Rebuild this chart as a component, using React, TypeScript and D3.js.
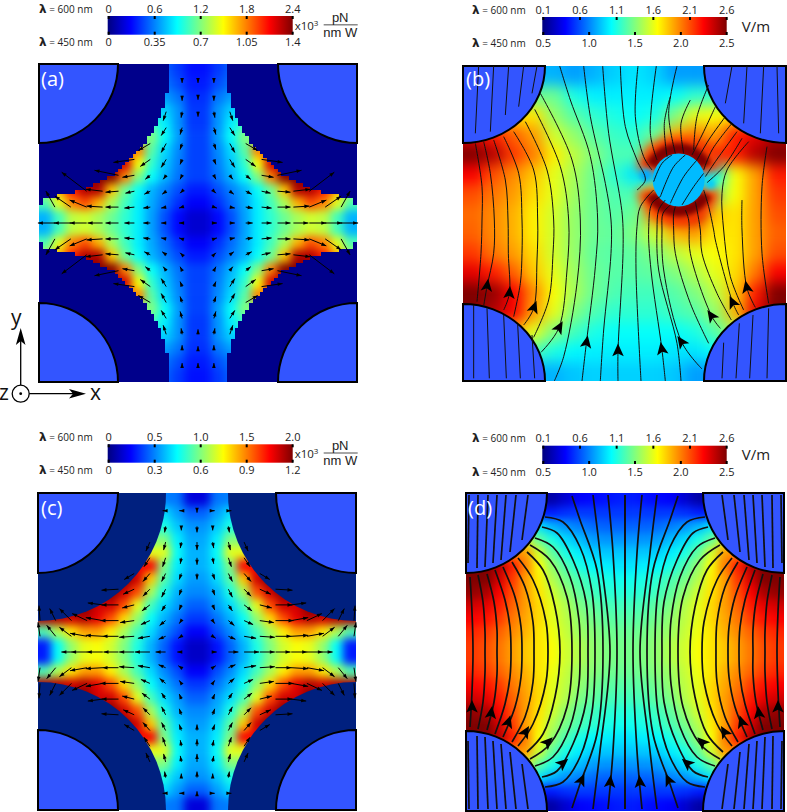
import React from "react";
import * as d3 from "d3";

// colour bar ticks
const forceTop600A = ["0", "0.6", "1.2", "1.8", "2.4"];
const forceBottom450A = ["0", "0.35", "0.7", "1.05", "1.4"];
const forceTop600C = ["0", "0.5", "1.0", "1.5", "2.0"];
const forceBottom450C = ["0", "0.3", "0.6", "0.9", "1.2"];
const fieldTop600 = ["0.1", "0.6", "1.1", "1.6", "2.1", "2.6"];
const fieldBottom450 = ["0.5", "1.0", "1.5", "2.0", "2.5"];

// colour map, in percent of the bar
const jetDomain = [0, 12.5, 37.5, 62.5, 87.5, 100];
const jetColors = ["#00007f", "#0000ff", "#00ffff", "#ffff00", "#ff0000", "#7f0000"];

// heat values, percent of the colour bar, top-left quarter
const fieldA = [
  [22, 22, 22, 22, 22, 22, 22, 22, 22, 22, 18, 14],
  [24, 24, 24, 24, 24, 24, 24, 24, 24, 24, 20, 15],
  [28, 28, 28, 28, 28, 28, 28, 28, 28, 28, 24, 17],
  [33, 33, 33, 33, 33, 33, 33, 33, 33, 33, 27, 18],
  [44, 44, 44, 44, 44, 44, 44, 44, 44, 36, 27, 18],
  [50, 50, 50, 50, 50, 50, 50, 50, 50, 38, 28, 19],
  [75, 75, 75, 75, 75, 75, 75, 75, 46, 34, 26, 19],
  [92, 92, 92, 92, 92, 92, 92, 62, 42, 32, 25, 19],
  [60, 75, 90, 100, 100, 100, 75, 50, 38, 30, 24, 19],
  [55, 70, 85, 95, 95, 68, 48, 38, 30, 25, 20, 15],
  [45, 60, 75, 80, 70, 54, 44, 36, 29, 23, 17, 12],
  [30, 44, 56, 58, 54, 48, 42, 36, 28, 20, 13, 8],
];
const fieldC = [
  [25, 25, 25, 25, 25, 25, 25, 25, 25, 25, 24, 9],
  [34, 34, 34, 34, 34, 34, 34, 34, 34, 34, 28, 22],
  [40, 40, 40, 40, 40, 40, 40, 40, 40, 40, 32, 27],
  [50, 50, 50, 50, 50, 50, 50, 50, 50, 50, 36, 29],
  [60, 60, 60, 60, 60, 60, 60, 60, 60, 60, 38, 30],
  [88, 88, 88, 88, 88, 88, 88, 88, 88, 50, 36, 30],
  [100, 100, 100, 100, 100, 100, 100, 92, 68, 46, 34, 28],
  [100, 100, 100, 100, 100, 100, 92, 80, 54, 40, 30, 26],
  [100, 100, 100, 100, 92, 92, 80, 60, 44, 34, 28, 22],
  [95, 95, 92, 95, 90, 80, 66, 52, 38, 30, 24, 18],
  [45, 55, 65, 72, 72, 64, 54, 44, 34, 26, 20, 12],
  [15, 38, 52, 60, 62, 58, 50, 40, 30, 22, 14, 7],
];
const fieldD = [
  [4, 4, 4, 4, 4, 4, 4, 8, 12, 13, 14, 15],
  [15, 15, 15, 15, 15, 15, 15, 17, 18, 18, 18, 18],
  [35, 35, 35, 35, 35, 35, 30, 27, 25, 23, 22, 22],
  [60, 60, 60, 60, 60, 47, 40, 34, 31, 28, 27, 27],
  [80, 80, 80, 75, 72, 58, 47, 40, 36, 33, 32, 32],
  [100, 100, 95, 85, 75, 62, 52, 45, 40, 37, 36, 35],
  [100, 100, 92, 82, 72, 64, 55, 49, 45, 42, 40, 39],
  [98, 96, 88, 80, 72, 65, 58, 52, 47, 44, 42, 41],
  [92, 90, 85, 78, 72, 66, 60, 55, 50, 47, 45, 44],
  [88, 86, 82, 76, 71, 66, 60, 56, 52, 49, 47, 46],
  [84, 82, 78, 74, 70, 65, 61, 57, 53, 51, 49, 48],
  [82, 80, 76, 72, 68, 65, 62, 58, 55, 52, 50, 49],
];
// panel b has a particle in it, so the whole panel is listed
const fieldB = [
  [30, 30, 30, 30, 30, 28, 30, 33, 35, 33, 28, 28, 27, 27, 27, 27],
  [48, 48, 48, 48, 48, 40, 36, 36, 36, 36, 38, 42, 42, 45, 45, 45],
  [65, 65, 65, 65, 52, 46, 42, 40, 38, 40, 50, 60, 62, 65, 65, 65],
  [90, 85, 78, 72, 58, 52, 46, 43, 42, 48, 70, 75, 72, 85, 90, 95],
  [100, 95, 82, 75, 64, 56, 50, 45, 45, 75, 92, 94, 84, 85, 95, 100],
  [88, 80, 74, 68, 60, 54, 48, 42, 35, 32, 30, 30, 38, 62, 72, 85],
  [80, 76, 72, 66, 60, 53, 48, 45, 45, 60, 50, 40, 50, 62, 72, 82],
  [77, 74, 70, 64, 58, 52, 48, 46, 48, 75, 92, 92, 68, 65, 72, 80],
  [78, 74, 70, 64, 58, 52, 48, 47, 50, 58, 70, 72, 65, 65, 72, 78],
  [82, 76, 72, 66, 58, 52, 47, 46, 47, 50, 56, 60, 62, 65, 72, 80],
  [90, 85, 78, 68, 60, 53, 48, 46, 46, 47, 50, 55, 60, 66, 76, 88],
  [100, 98, 88, 74, 62, 54, 48, 45, 44, 44, 46, 50, 56, 68, 85, 100],
  [100, 95, 88, 72, 60, 50, 45, 42, 42, 42, 44, 46, 52, 70, 90, 100],
  [80, 75, 70, 60, 50, 44, 40, 38, 38, 38, 38, 40, 46, 55, 75, 80],
  [50, 50, 50, 45, 40, 37, 36, 36, 36, 36, 35, 35, 38, 45, 50, 50],
  [30, 30, 30, 30, 30, 32, 33, 33, 33, 33, 32, 28, 28, 30, 30, 30],
];

// force arrows, one row per distance from the middle: outward x, inward y
const arrowUA = [
  [0, 3, 5, 7, 10, 13, 15, 17, 17, 17],
  [0, 3, 5, 7, 10, 13, 16, 17, 16, 9],
  [0, 2, 4, 6, 9, 13, 17, 25],
  [0, 2, 3, 5, 12, 24],
  [0, 2, 5, 10, 21],
  [0, 2, 5, 12],
  [0, 2, 5],
  [0, 1, 3],
  [0, 0],
  [0, 0],
];
const arrowVA = [
  [0, 0, 0, 0, 0, 0, 0, 0, 0, 0],
  [0, 1, 1, 1, 1, 0, -1, -7, -11, -16],
  [0, 2, 3, 3, 2, 1, -2, -19],
  [0, 4, 4, 4, 2, -5],
  [0, 5, 8, 7, 3],
  [0, 6, 9, 7],
  [0, 7, 8],
  [5, 6, 9],
  [4, 5],
  [3, 3],
];
const arrowUC = [
  [0, 4, 10, 15, 15, 15, 16, 16, 10, 0, 0],
  [0, 3, 7, 12, 15, 16, 17, 17, 12, 9, 2],
  [0, 2, 6, 9, 14, 18, 17, 15, 12, 6, 1],
  [0, 2, 4, 8, 12, 17, 15],
  [0, 2, 4, 7, 11, 17],
  [0, 2, 4, 7, 10],
  [0, 1, 3, 6],
  [0, 1, 2, 4],
  [0, 0, 1],
  [0, 2, 3],
];
const arrowVC = [
  [0, 0, 0, 0, 0, 0, 0, 0, 0, 0, 0],
  [0, 2, 3, 2, 1, 0, -1, -3, -9, -11, -14],
  [0, 3, 5, 4, 2, 0, -3, -7, -12, -12, -15],
  [0, 5, 6, 6, 3, 0, -2],
  [0, 6, 8, 7, 5, 1],
  [6, 6, 8, 8, 6],
  [7, 6, 9, 9],
  [8, 6, 8, 9],
  [6, 4, 6],
  [2, 0, 0],
];

// streamlines of panel b, in units of a third of a pixel
const streamB = [
  [[110, 905], [122, 760], [125, 660], [125, 560], [105, 430]],
  [[130, 918], [140, 860], [160, 760], [162, 660], [150, 520], [130, 425]],
  [[190, 930], [207, 882], [204, 760], [203, 660], [195, 540], [160, 420]],
  [[220, 950], [240, 850], [245, 760], [245, 660], [235, 520], [190, 410]],
  [[250, 975], [280, 925], [290, 780], [292, 660], [280, 510], [220, 395]],
  [[280, 1012], [325, 900], [338, 760], [340, 660], [320, 510], [255, 365]],
  [[302, 1057], [355, 985], [380, 810], [385, 660], [360, 500], [283, 328]],
  [[342, 1143], [370, 1070], [410, 850], [420, 660], [395, 480], [300, 280]],
  [[425, 1143], [438, 1030], [465, 800], [472, 660], [450, 470], [390, 300], [358, 198]],
  [[480, 1143], [490, 990], [512, 760], [512, 660], [495, 550], [450, 350], [430, 198]],
  [[533, 1143], [533, 1055], [548, 760], [547, 660], [540, 600], [505, 400], [487, 198]],
  [[602, 1143], [587, 810], [590, 680], [600, 620], [640, 570]],
  [[590, 570], [615, 540], [590, 480], [555, 380], [540, 198]],
  [[635, 510], [610, 470], [585, 350], [593, 198]],
  [[650, 480], [630, 400], [648, 198]],
  [[680, 470], [672, 370], [690, 290]],
  [[705, 460], [685, 340], [710, 198]],
  [[730, 460], [722, 370], [750, 300]],
  [[760, 450], [770, 350], [805, 255]],
  [[755, 465], [790, 395], [825, 320]],
  [[770, 480], [805, 420], [855, 350]],
  [[790, 510], [815, 450], [875, 370]],
  [[795, 530], [825, 485], [890, 395]],
  [[800, 548], [850, 500], [905, 415]],
  [[675, 1143], [665, 1050], [632, 810], [625, 690], [635, 610], [660, 590]],
  [[722, 1143], [710, 1030], [655, 810], [650, 690], [655, 630], [675, 600]],
  [[785, 1107], [725, 1028], [670, 810], [665, 690], [668, 640], [690, 615]],
  [[805, 1030], [750, 910], [705, 760], [700, 690], [700, 640], [705, 620]],
  [[840, 985], [815, 950], [750, 760], [745, 660], [735, 630]],
  [[873, 960], [830, 880], [785, 760], [780, 690], [770, 630], [765, 605]],
  [[895, 945], [878, 910], [825, 720], [820, 690], [805, 620], [790, 570]],
  [[910, 930], [870, 830], [850, 690], [845, 580], [860, 510], [925, 425]],
  [[945, 922], [920, 865], [905, 690], [905, 600]],
  [[985, 910], [965, 760], [965, 560], [980, 440]],
  // inside the corners
  [[115, 198], [105, 400]],
  [[160, 198], [150, 395]],
  [[205, 198], [195, 345]],
  [[250, 198], [235, 320]],
  [[290, 198], [275, 280]],
  [[875, 198], [855, 310]],
  [[920, 198], [910, 370]],
  [[970, 198], [960, 400]],
  [[1010, 198], [1015, 400]],
  [[100, 915], [100, 1135]],
  [[140, 925], [147, 1135]],
  [[190, 945], [198, 1135]],
  [[232, 972], [240, 1135]],
  [[275, 1005], [283, 1135]],
  [[850, 1028], [845, 1135]],
  [[897, 970], [887, 1135]],
  [[938, 945], [928, 1135]],
  [[985, 925], [980, 1135]],
  // across the particle
  [[640, 545], [665, 490], [695, 465]],
  [[660, 590], [700, 500], [735, 465]],
  [[690, 610], [730, 530], [770, 480]],
  [[725, 615], [760, 560], [790, 520]],
];
// x, y, tilt from straight up in degrees
const arrowsB = [
  [140, 860, 8], [207, 882, 5], [280, 925, 20], [355, 985, 30], [438, 1030, 10], [533, 1055, 0],
  [665, 1050, -10], [725, 1028, -35], [815, 950, -35], [878, 910, -25], [920, 865, -12],
];

// streamlines of panel d, one quarter: distance from the middle in x and y
const streamD = [
  [[155, 75], [153, 40], [152, 0]],
  [[147, 77], [142, 50], [140, 20], [140, 0]],
  [[138, 78], [131, 50], [128, 22], [128, 0]],
  [[130, 82], [120, 52], [115, 25], [114, 0]],
  [[122, 85], [110, 55], [104, 25], [103, 0]],
  [[113, 90], [100, 65], [92, 30], [91, 0]],
  [[107, 94], [92, 72], [79, 30], [77, 0]],
  [[98, 100], [82, 82], [70, 45], [65, 0]],
  [[95, 107], [75, 92], [58, 55], [53, 0]],
  [[90, 114], [72, 105], [55, 75], [46, 32], [45, 0]],
  [[83, 125], [68, 119], [52, 92], [39, 50], [37, 0]],
  [[80, 135], [62, 130], [45, 105], [33, 60], [30, 0]],
  [[53, 156], [45, 132], [28, 82], [22, 0]],
  [[32, 157], [25, 99], [15, 0]],
  [[17, 157], [12, 99], [8, 0]],
  [[0, 157], [0, 0]],
];
const streamDCorners = [
  [[97, 157], [103, 112]],
  [[109, 157], [115, 100]],
  [[119, 157], [124, 92]],
  [[128, 157], [132, 89]],
  [[137, 157], [140, 85]],
  [[147, 157], [148, 84]],
  [[156, 157], [157, 89]],
];
const arrowsD = [
  [153, 56, 0], [134, 62, 8], [117, 71, 18], [100, 81, 30], [78, 91, 45], [63, 112, 50], [44, 129, 25], [15, 131, 5],
];

const jet = d3.scaleLinear<string>().domain(jetDomain).range(jetColors);
const mirror = (q: number[][]) => {
  const rows = q.map((r) => [...r, ...[...r].reverse()]);
  return [...rows, ...[...rows].reverse()];
};
const lineGen = d3.line().curve(d3.curveCatmullRom.alpha(0.5));
const SANS = "'Open Sans', sans-serif";
const CIRCLE = "#3355ff";

const Heat = ({ rows, x0, x1, y0, y1, filter }: any) => {
  const nx = rows[0].length;
  const ny = rows.length;
  const xs = d3.scaleLinear().domain([0, nx]).range([x0, x1]);
  const ys = d3.scaleLinear().domain([0, ny]).range([y0, y1]);
  const pad = 4;
  return (
    <g filter={filter}>
      {d3.range(-pad, ny + pad).map((j) =>
        d3.range(-pad, nx + pad).map((i) => (
          <rect
            key={j + "_" + i}
            x={xs(i)}
            y={ys(j)}
            width={xs(1) - xs(0) + 0.5}
            height={ys(1) - ys(0) + 0.5}
            fill={jet(rows[Math.max(0, Math.min(ny - 1, j))][Math.max(0, Math.min(nx - 1, i))])}
          />
        ))
      )}
    </g>
  );
};

const corners = (x0: number, x1: number, y0: number, y1: number) => [
  [x0, y0, 1, 1],
  [x1, y0, -1, 1],
  [x0, y1, 1, -1],
  [x1, y1, -1, -1],
];

const quarter = (cx: number, cy: number, sx: number, sy: number, rx: number, ry: number) =>
  `M${cx},${cy}L${cx + sx * rx},${cy}A${rx},${ry} 0 0 ${sx * sy > 0 ? 1 : 0} ${cx},${cy + sy * ry}Z`;

const Discs = ({ x0, x1, y0, y1, rx, ry }: any) => (
  <g>
    {corners(x0, x1, y0, y1).map(([cx, cy, sx, sy], i) => (
      <path key={i} d={quarter(cx, cy, sx, sy, rx, ry)} fill={CIRCLE} stroke="#000" strokeWidth={2} />
    ))}
  </g>
);

// stepped edge of the computed region in panel a, with the small tip at the side
const StepMask = ({ x0, x1, y0, y1, r, step, fill }: any) => {
  const p = d3.path();
  corners(x0, x1, y0, y1).forEach(([cx, cy, sx, sy]) => {
    d3.range(0, r + 7, step).forEach((dy) => {
      const dx = dy < r ? Math.max(step, Math.round(Math.sqrt(r * r - dy * dy) / step) * step) : step;
      const left = sx > 0 ? cx : cx - dx;
      const top = sy > 0 ? cy + dy : cy - dy - step;
      p.rect(left, top, dx, step + 0.3);
    });
  });
  return <path d={p.toString()} fill={fill} shapeRendering="crispEdges" />;
};

const Quiver = ({ cx, cy, us, vs, step }: any) => {
  const pos = d3.scaleLinear().domain([0, 10]).range([0, 10 * step]);
  const items: React.ReactNode[] = [];
  us.forEach((row: number[], j: number) => {
    row.forEach((u: number, i: number) => {
      const v = vs[j][i];
      if (!u && !v) return;
      [-1, 1].forEach((sx) => {
        if (i === 0 && sx > 0) return;
        [-1, 1].forEach((sy) => {
          if (j === 0 && sy > 0) return;
          const tx = cx + sx * pos(i);
          const ty = cy + sy * pos(j);
          const hx = tx + sx * u;
          const hy = ty - sy * v;
          const a = (Math.atan2(hy - ty, hx - tx) * 180) / Math.PI;
          items.push(
            <g key={`${i}_${j}_${sx}_${sy}`}>
              <line x1={tx} y1={ty} x2={hx} y2={hy} stroke="#000" strokeWidth={1} />
              <path d="M0,0L-5,-1.8L-5,1.8Z" fill="#000" transform={`translate(${hx},${hy}) rotate(${a})`} />
            </g>
          );
        });
      });
    });
  });
  return <g>{items}</g>;
};

const FlowHead = ({ x, y, tilt, size = 1.15 }: any) => (
  <path
    d="M0,-7L5,4L0,1.5L-5,4Z"
    fill="#000"
    transform={`translate(${x},${y}) rotate(${tilt}) scale(${size})`}
  />
);

const Lambda = ({ x, y, nm }: any) => (
  <text x={x} y={y} fontFamily={SANS} fontSize={10} fill="#222">
    <tspan fontFamily="'DejaVu Sans', sans-serif" fontSize={12} fontWeight={700}>λ</tspan>
    <tspan> = {nm} nm</tspan>
  </text>
);

const ColorBar = ({ x0, x1, y0, y1, top, bottom, unit, labelX }: any) => {
  const topScale = d3.scaleLinear().domain([+top[0], +top[top.length - 1]]).range([x0 + 1, x1]);
  const botScale = d3.scaleLinear().domain([+bottom[0], +bottom[bottom.length - 1]]).range([x0 + 1, x1]);
  const midY = (y0 + y1) / 2;
  return (
    <g fontFamily={SANS} fill="#222">
      <rect x={x0} y={y0} width={x1 - x0} height={y1 - y0} fill="url(#jetBar)" />
      {top.map((t: string) => (
        <g key={t}>
          <rect x={topScale(+t) - 1} y={y0} width={2} height={3} fill="#000" />
          <text x={topScale(+t)} y={y0 - 3.5} fontSize={11} textAnchor="middle">{t}</text>
        </g>
      ))}
      {bottom.map((t: string) => (
        <g key={t}>
          <rect x={botScale(+t) - 1} y={y1 - 3} width={2} height={3} fill="#000" />
          <text x={botScale(+t)} y={y1 + 11.5} fontSize={11} textAnchor="middle">{t}</text>
        </g>
      ))}
      <Lambda x={labelX} y={y0 - 3.5} nm={600} />
      <Lambda x={labelX} y={y1 + 11.5} nm={450} />
      {unit === "force" ? (
        <g>
          <text x={x1 + 2} y={midY + 4.5} fontSize={11.5}>
            x10<tspan dy={-4} fontSize={8}>3</tspan>
          </text>
          <text x={x1 + 47.5} y={midY - 3.5} fontSize={13} textAnchor="middle" fontFamily="'Liberation Sans', sans-serif">pN</text>
          <line x1={x1 + 31} x2={x1 + 65} y1={midY - 0.5} y2={midY - 0.5} stroke="#222" strokeWidth={0.8} />
          <text x={x1 + 47.5} y={midY + 11.5} fontSize={13} textAnchor="middle" fontFamily="'Liberation Sans', sans-serif">nm W</text>
        </g>
      ) : (
        <text x={x1 + 15} y={midY + 5.5} fontSize={15}>V/m</text>
      )}
    </g>
  );
};

const PanelTag = ({ x, y, t }: any) => (
  <text x={x} y={y} fontFamily={SANS} fontSize={20} fill="#fff">{t}</text>
);

export default function App() {
  const a = { x0: 39, x1: 357, y0: 64, y1: 382 };
  const c = { x0: 38, x1: 356, y0: 493, y1: 810 };
  const b = { x0: 463, x1: 786, y0: 66, y1: 381 };
  const d = { x0: 466, x1: 784, y0: 493, y1: 811 };

  // panel b works in thirds of a pixel
  const bx = d3.scaleLinear().domain([68, 1037]).range([b.x0, b.x1]);
  const by = d3.scaleLinear().domain([198, 1143]).range([b.y0, b.y1]);
  const dx = d3.scaleLinear().domain([-159, 159]).range([d.x0, d.x1]);
  const dy = d3.scaleLinear().domain([-159, 159]).range([d.y0, d.y1]);

  const ringArc = d3.arc();
  const px = bx(715);
  const py = by(540);

  return (
    <svg width={787} height={812} style={{ position: "absolute", left: 0, top: 0, display: "block" }}>
      <defs>
        <linearGradient id="jetBar">
          {jetDomain.map((o, i) => (
            <stop key={o} offset={`${o}%`} stopColor={jetColors[i]} />
          ))}
        </linearGradient>
        <filter id="blur4" x="-5%" y="-5%" width="110%" height="110%" colorInterpolationFilters="sRGB">
          <feGaussianBlur stdDeviation={4.5} />
        </filter>
        <filter id="blur7" x="-5%" y="-5%" width="110%" height="110%" colorInterpolationFilters="sRGB">
          <feGaussianBlur stdDeviation={7} />
        </filter>
        <filter id="blur2" x="-30%" y="-30%" width="160%" height="160%" colorInterpolationFilters="sRGB">
          <feGaussianBlur stdDeviation={2.6} />
        </filter>
        <filter id="blur5" x="-30%" y="-30%" width="160%" height="160%" colorInterpolationFilters="sRGB">
          <feGaussianBlur stdDeviation={5} />
        </filter>
        {Object.entries({ a, b, c, d }).map(([k, p]) => (
          <clipPath id={"clip" + k} key={k}>
            <rect x={p.x0} y={p.y0} width={p.x1 - p.x0} height={p.y1 - p.y0} />
          </clipPath>
        ))}
      </defs>

      {/* colour bars */}
      <ColorBar x0={107.7} x1={292.7} y0={16} y1={34.7} top={forceTop600A} bottom={forceBottom450A} unit="force" labelX={39} />
      <ColorBar x0={542.3} x1={726.7} y0={17} y1={35} top={fieldTop600} bottom={fieldBottom450} unit="field" labelX={472} />
      <ColorBar x0={107.7} x1={292.7} y0={444.3} y1={462.7} top={forceTop600C} bottom={forceBottom450C} unit="force" labelX={39} />
      <ColorBar x0={542.3} x1={726.7} y0={445.7} y1={464} top={fieldTop600} bottom={fieldBottom450} unit="field" labelX={472} />

      {/* (a) */}
      <g clipPath="url(#clipa)">
        <Heat rows={mirror(fieldA)} {...a} filter="url(#blur4)" />
        <StepMask {...a} r={131} step={3.6} fill="#00008b" />
      </g>
      <Discs {...a} rx={79} ry={79} />
      <Quiver cx={198} cy={223} us={arrowUA} vs={arrowVA} step={15.9} />
      <PanelTag x={41} y={86} t="(a)" />

      {/* (c) */}
      <g clipPath="url(#clipc)">
        <Heat rows={mirror(fieldC)} {...c} filter="url(#blur4)" />
        {corners(c.x0, c.x1, c.y0, c.y1).map(([cx, cy], i) => (
          <circle key={i} cx={cx} cy={cy} r={128} fill="#00207f" />
        ))}
      </g>
      <Discs {...c} rx={80} ry={80} />
      <Quiver cx={197} cy={652} us={arrowUC} vs={arrowVC} step={15.7} />
      <PanelTag x={41} y={515} t="(c)" />

      {/* (b) */}
      <g clipPath="url(#clipb)">
        <Heat rows={fieldB} {...b} filter="url(#blur7)" />
        <g filter="url(#blur5)" transform={`translate(${px},${py})`}>
          <path d={ringArc({ innerRadius: 24, outerRadius: 44, startAngle: -1.3, endAngle: 1.3 }) as string} fill="#ff4000" />
          <path d={ringArc({ innerRadius: 24, outerRadius: 44, startAngle: Math.PI - 1.3, endAngle: Math.PI + 1.3 }) as string} fill="#ff4000" />
        </g>
        <g filter="url(#blur2)" transform={`translate(${px},${py})`}>
          <path d={ringArc({ innerRadius: 24, outerRadius: 37, startAngle: -1.1, endAngle: 1.1 }) as string} fill="#7f0000" />
          <path d={ringArc({ innerRadius: 24, outerRadius: 37, startAngle: Math.PI - 1.1, endAngle: Math.PI + 1.1 }) as string} fill="#7f0000" />
          <circle cx={-33} cy={-5} r={6} fill="#00aaff" />
          <circle cx={32} cy={4} r={5} fill="#00ccff" />
        </g>
        <ellipse cx={px} cy={py} rx={26} ry={26.5} fill="#00bbff" />
      </g>
      <Discs {...b} rx={82} ry={77} />
      {streamB.map((s, i) => (
        <path
          key={i}
          d={lineGen(s.map(([x, y]) => [bx(x), by(y)] as [number, number])) as string}
          fill="none"
          stroke="#111"
          strokeWidth={1}
        />
      ))}
      {arrowsB.map(([x, y, t], i) => (
        <FlowHead key={i} x={bx(x)} y={by(y)} tilt={t} />
      ))}
      <PanelTag x={466} y={86} t="(b)" />

      {/* (d) */}
      <g clipPath="url(#clipd)">
        <Heat rows={mirror(fieldD)} {...d} filter="url(#blur4)" />
      </g>
      <Discs {...d} rx={81} ry={80} />
      {/* full lines, top half joined to its mirror so they stay smooth through the middle */}
      {streamD.map((s, i) =>
        [-1, 1].map((sx) => {
          const full = [
            ...s.map(([x, y]) => [dx(sx * x), dy(-y)] as [number, number]),
            ...[...s].reverse().slice(1).map(([x, y]) => [dx(sx * x), dy(y)] as [number, number]),
          ];
          return <path key={`${i}_${sx}`} d={lineGen(full) as string} fill="none" stroke="#111" strokeWidth={1.7} />;
        })
      )}
      {streamDCorners.map((s, i) =>
        [-1, 1].map((sx) =>
          [-1, 1].map((sy) => (
            <path
              key={`${i}_${sx}_${sy}`}
              d={lineGen(s.map(([x, y]) => [dx(sx * x), dy(sy * y)] as [number, number])) as string}
              fill="none"
              stroke="#111"
              strokeWidth={1.7}
            />
          ))
        )
      )}
      {arrowsD.map(([x, y, t], i) =>
        [-1, 1].map((sx) => (
          <FlowHead key={`${i}_${sx}`} x={dx(sx * x)} y={dy(y)} tilt={-sx * t} />
        ))
      )}
      <PanelTag x={468} y={515} t="(d)" />

      {/* axes triad */}
      <g stroke="#000" strokeWidth={1.3} fill="none">
        <circle cx={20.7} cy={393.7} r={8.5} />
        <line x1={20.7} x2={20.7} y1={385} y2={335} />
        <line x1={29.2} x2={78} y1={393.7} y2={393.7} />
      </g>
      <circle cx={20.7} cy={393.7} r={1.4} fill="#000" />
      <path d="M20.7,328L25.5,345L20.7,341L15.9,345Z" fill="#000" />
      <path d="M86,393.7L69,388.9L73,393.7L69,398.5Z" fill="#000" />
      <g fontFamily={SANS} fontSize={21} fill="#111">
        <text x={11} y={325}>y</text>
        <text x={90} y={400}>x</text>
        <text x={-1} y={400}>z</text>
      </g>
    </svg>
  );
}
